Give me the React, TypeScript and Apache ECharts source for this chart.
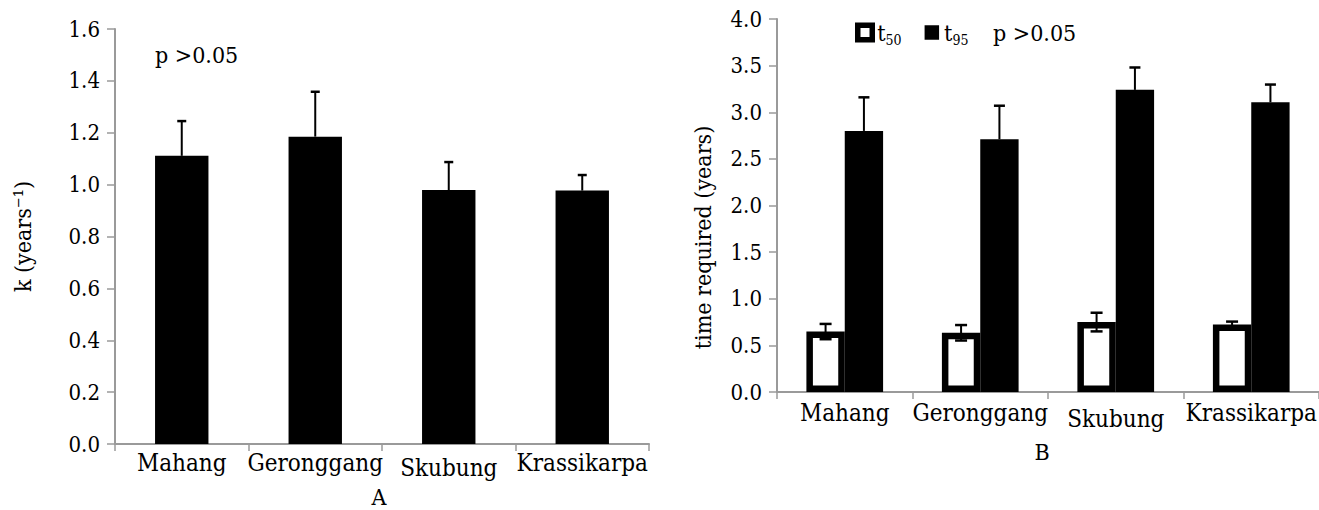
import React, { useEffect, useRef } from "react";
import * as echarts from "echarts";

const sites = ["Mahang", "Geronggang", "Skubung", "Krassikarpa"];
const kMean = [1.111, 1.185, 0.979, 0.977];
const kErr = [0.134, 0.173, 0.108, 0.06];
const t50Mean = [0.648, 0.635, 0.75, 0.725];
const t50Err = [0.082, 0.083, 0.1, 0.03];
const t95Mean = [2.8, 2.71, 3.24, 3.107];
const t95Err = [0.36, 0.36, 0.24, 0.19];
const pText = "p >0.05";

const FONT = "'DejaVu Serif Condensed', 'DejaVu Serif', serif";
const AXIS_GRAY = "#9a9a9a";

function errRender(offFrac: number, capW: number, both: boolean) {
  return (params: any, api: any) => {
    const i = api.value(0);
    const m = api.value(1);
    const e = api.value(2);
    const base = api.coord([i, m]);
    const top = api.coord([i, m + e]);
    const bot = api.coord([i, m - e]);
    const band = api.size([1, 0])[0];
    const x = base[0] + band * offFrac;
    const style = { stroke: "#000", lineWidth: 2 };
    const capStyle = { stroke: "#000", lineWidth: 2.5 };
    const children: any[] = [
      { type: "line", shape: { x1: x, y1: both ? bot[1] : base[1], x2: x, y2: top[1] }, style },
      { type: "line", shape: { x1: x - capW / 2, y1: top[1], x2: x + capW / 2, y2: top[1] }, style: capStyle },
    ];
    if (both) {
      children.push({ type: "line", shape: { x1: x - capW / 2, y1: bot[1], x2: x + capW / 2, y2: bot[1] }, style: capStyle });
    }
    return { type: "group", children };
  };
}

function catAxis(gridIndex: number, margin: number, drop: number) {
  return {
    type: "category",
    gridIndex,
    data: sites.map((s) => (s === "Skubung" ? { value: s, textStyle: { padding: [drop, 0, 0, 0] } } : s)),
    axisLine: { lineStyle: { color: AXIS_GRAY, width: 2 } },
    axisTick: { show: true, length: 7, lineStyle: { color: AXIS_GRAY, width: 1.5 } },
    axisLabel: { color: "#000", fontFamily: FONT, fontSize: 24, margin, interval: 0 },
  };
}

function valAxis(gridIndex: number, max: number, interval: number, name: string, nameGap: number, namePad: number[]) {
  return {
    type: "value",
    gridIndex,
    min: 0,
    max,
    interval,
    name,
    nameLocation: "middle",
    nameGap,
    nameTextStyle: { color: "#000", fontFamily: FONT, fontSize: 23, padding: namePad },
    splitLine: { show: false },
    axisLine: { show: true, lineStyle: { color: AXIS_GRAY, width: 2 } },
    axisTick: { show: true, length: 8, lineStyle: { color: AXIS_GRAY, width: 1.5 } },
    axisLabel: {
      color: "#000",
      fontFamily: FONT,
      fontSize: 22,
      margin: 15,
      formatter: (v: number) => v.toFixed(1),
    },
  };
}

export default function App() {
  const ref = useRef<HTMLDivElement>(null);
  useEffect(() => {
    if (!ref.current) return;
    const chart = echarts.init(ref.current, null, { renderer: "svg" });
    const option: any = {
      animation: false,
      backgroundColor: "#fff",
      grid: [
        { left: 115, top: 29, width: 534, height: 415 },
        { left: 777, top: 19, width: 552, height: 373 },
      ],
      xAxis: [catAxis(0, 7, 5), catAxis(1, 9, 6)],
      yAxis: [
        valAxis(0, 1.6, 0.2, "k (years\u207B\u00B9)", 81, [0, 0, 0, 0]),
        valAxis(1, 4, 0.5, "time required (years)", 63, [0, 64, 0, 0]),
      ],
      legend: {
        left: 855,
        top: 21,
        padding: 0,
        icon: "rect",
        itemWidth: 14.5,
        itemHeight: 14.5,
        itemGap: 23,
        data: [
          { name: "t50", itemStyle: { color: "#fff", borderColor: "#000", borderWidth: 5.5 } },
          { name: "t95", itemStyle: { color: "#000", borderWidth: 0 } },
        ],
        formatter: (n: string) => `{t|t}{s|${n.slice(1)}}`,
        textStyle: {
          rich: {
            t: { fontFamily: FONT, fontSize: 23, color: "#000", lineHeight: 28, verticalAlign: "middle" },
            s: { fontFamily: FONT, fontSize: 14, color: "#000", lineHeight: 14, verticalAlign: "bottom" },
          },
        },
      },
      graphic: [
        { type: "text", x: 155, y: 55, style: { text: pText, fontFamily: FONT, fontSize: 23, fill: "#000", verticalAlign: "middle" } },
        { type: "text", x: 993, y: 33, style: { text: pText, fontFamily: FONT, fontSize: 23, fill: "#000", verticalAlign: "middle" } },
        { type: "text", x: 379, y: 497, style: { text: "A", fontFamily: FONT, fontSize: 23, fill: "#000", align: "center", verticalAlign: "middle" } },
        { type: "text", x: 1042, y: 452, style: { text: "B", fontFamily: FONT, fontSize: 23, fill: "#000", align: "center", verticalAlign: "middle" } },
      ],
      series: [
        {
          type: "bar",
          name: "k",
          xAxisIndex: 0,
          yAxisIndex: 0,
          data: kMean,
          barWidth: "40%",
          itemStyle: { color: "#000" },
        },
        {
          type: "custom",
          name: "k error",
          xAxisIndex: 0,
          yAxisIndex: 0,
          renderItem: errRender(0, 9, false),
          data: kMean.map((m, i) => [i, m, kErr[i]]),
          encode: { x: 0, y: 1 },
          z: 3,
        },
        {
          type: "bar",
          name: "t50",
          xAxisIndex: 1,
          yAxisIndex: 1,
          data: t50Mean,
          barWidth: "28.3%",
          barGap: "0%",
          itemStyle: { color: "#fff", borderColor: "#000", borderWidth: 6.5 },
        },
        {
          type: "bar",
          name: "t95",
          xAxisIndex: 1,
          yAxisIndex: 1,
          data: t95Mean,
          barWidth: "28.3%",
          barGap: "0%",
          itemStyle: { color: "#000" },
        },
        {
          type: "custom",
          name: "t50 error",
          xAxisIndex: 1,
          yAxisIndex: 1,
          renderItem: errRender(-0.1415, 12, true),
          data: t50Mean.map((m, i) => [i, m, t50Err[i]]),
          encode: { x: 0, y: 1 },
          z: 3,
        },
        {
          type: "custom",
          name: "t95 error",
          xAxisIndex: 1,
          yAxisIndex: 1,
          renderItem: errRender(0.1415, 11, false),
          data: t95Mean.map((m, i) => [i, m, t95Err[i]]),
          encode: { x: 0, y: 1 },
          z: 3,
        },
      ],
    };
    chart.setOption(option);
    return () => chart.dispose();
  }, []);
  return <div ref={ref} style={{ position: "absolute", left: 0, top: 0, width: 1319, height: 510 }} />;
}
